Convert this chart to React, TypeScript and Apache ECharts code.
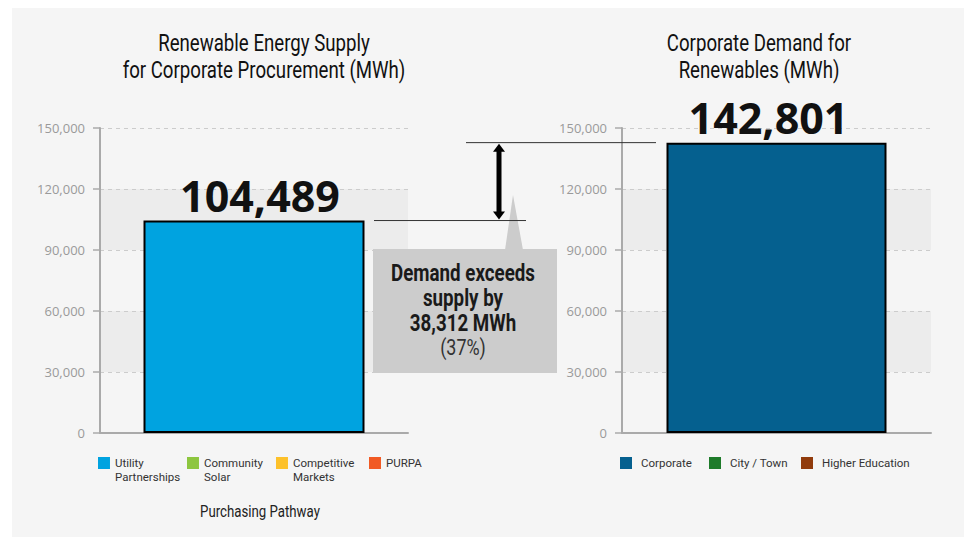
import React, { useEffect, useRef } from 'react';
import * as echarts from 'echarts';

const supplyCategories = ['Utility Partnerships', 'Community Solar', 'Competitive Markets', 'PURPA'];
const supplyValues = [104489, 0, 0, 0];
const supplyColors = ['#00a3e0', '#8dc63f', '#fdc12a', '#f15a24'];

const demandCategories = ['Corporate', 'City / Town', 'Higher Education'];
const demandValues = [142801, 0, 0];
const demandColors = ['#05608f', '#1e7b2a', '#913b0c'];

const yMin = 0;
const yMax = 150000;
const yInterval = 30000;

const supplyTitle = ['Renewable Energy Supply', 'for Corporate Procurement (MWh)'];
const demandTitle = ['Corporate Demand for', 'Renewables (MWh)'];
const pathwayLabel = 'Purchasing Pathway';

const FONT = "Roboto, 'Noto Sans', sans-serif";
const WIDE = "'Open Sans', 'Liberation Sans', sans-serif";

const fmt = (v: number) => Math.round(v).toLocaleString('en-US');

function measure(text: string, font: string): number {
  try {
    const ctx = document.createElement('canvas').getContext('2d');
    if (!ctx) return 0;
    ctx.font = font;
    return ctx.measureText(text).width;
  } catch (e) {
    return 0;
  }
}
function fitScale(text: string, font: string, target: number, fallback: number) {
  const w = measure(text, font);
  return w > 0 ? target / w : fallback;
}

function yAxis(gridIndex: number) {
  return {
    gridIndex,
    type: 'value',
    min: yMin,
    max: yMax,
    interval: yInterval,
    axisLine: { show: true, lineStyle: { color: '#aaaaaa', width: 2 } },
    axisTick: { show: true, length: 7, lineStyle: { color: '#aaaaaa', width: 1.5 } },
    axisLabel: { color: '#9a9a9a', fontSize: 13, margin: 15, fontFamily: WIDE, formatter: (v: number) => fmt(v) },
    splitLine: { show: true, lineStyle: { color: '#cccccc', width: 1, type: [4, 4] } },
    splitArea: { show: true, areaStyle: { color: ['rgba(0,0,0,0)', '#ececec'] } },
  };
}

function xAxis(gridIndex: number, name: string) {
  return {
    gridIndex,
    type: 'category',
    data: [name],
    axisLine: { show: true, lineStyle: { color: '#aaaaaa', width: 2 } },
    axisTick: { show: false },
    axisLabel: { show: false },
    splitLine: { show: false },
  };
}

const bigLabel = {
  position: 'top',
  distance: 4,
  fontSize: 43,
  fontWeight: 'bold',
  color: '#111111',
  fontFamily: WIDE,
  formatter: (p: any) => fmt(p.value),
};

const TWO_LINE_ICON = 'path://M0 0H12V12H0Z M0 26H0.05V26.05H0Z';

function legendItem(name: string, left: number, twoLine: boolean) {
  return {
    data: [name],
    left,
    top: 448,
    padding: 0,
    orient: 'horizontal',
    icon: twoLine ? TWO_LINE_ICON : 'rect',
    itemWidth: 12,
    itemHeight: twoLine ? 26 : 12,
    selectedMode: false,
    formatter: (n: string) => {
      if (!twoLine) return n;
      const i = n.indexOf(' ');
      return i < 0 ? n : n.slice(0, i) + '\n' + n.slice(i + 1);
    },
    itemStyle: { borderWidth: 0 },
    textStyle: { fontSize: 11.5, color: '#333333', lineHeight: 14, fontFamily: FONT },
  };
}

export default function App() {
  const ref = useRef<HTMLDivElement>(null);

  useEffect(() => {
    if (!ref.current) return;
    const chart = echarts.init(ref.current, null, { renderer: 'svg' });

    const supplySeries = supplyCategories.map((name, i) => ({
      type: 'bar',
      name,
      stack: 'supply',
      xAxisIndex: 0,
      yAxisIndex: 0,
      barWidth: 221,
      data: [supplyValues[i] > 0 ? supplyValues[i] : null],
      itemStyle: { color: supplyColors[i], borderColor: '#000000', borderWidth: 2 },
      label: { show: supplyValues[i] > 0, ...bigLabel, offset: [6, 0] },
    }));
    const demandSeries = demandCategories.map((name, i) => ({
      type: 'bar',
      name,
      stack: 'demand',
      xAxisIndex: 1,
      yAxisIndex: 1,
      barWidth: 220,
      data: [demandValues[i] > 0 ? demandValues[i] : null],
      itemStyle: { color: demandColors[i], borderColor: '#000000', borderWidth: 2 },
      label: { show: demandValues[i] > 0, ...bigLabel, offset: [-8, 0] },
    }));

    const supplyLegendLeft = [86, 175, 264, 357];
    const demandLegendLeft = [608, 697, 789];

    const option: any = {
      animation: false,
      backgroundColor: 'transparent',
      color: [...supplyColors, ...demandColors],
      grid: [
        { left: 88, top: 120, width: 308, height: 305 },
        { left: 610, top: 120, width: 309, height: 305 },
      ],
      xAxis: [xAxis(0, 'Supply'), xAxis(1, 'Demand')],
      yAxis: [yAxis(0), yAxis(1)],
      legend: [
        ...supplyCategories.map((n, i) => legendItem(n, supplyLegendLeft[i], n.includes(' '))),
        ...demandCategories.map((n, i) => {
          const l: any = legendItem(n, demandLegendLeft[i], false);
          l.textStyle = { ...l.textStyle, padding: [0, 0, 0, 4] };
          return l;
        }),
      ],
      series: [...supplySeries, ...demandSeries],
    };
    chart.setOption(option);

    const supplyTotal = supplyValues.reduce((a, b) => a + b, 0);
    const demandTotal = demandValues.reduce((a, b) => a + b, 0);
    const gap = demandTotal - supplyTotal;
    const gapPct = Math.round((gap / supplyTotal) * 100);
    const ySupply = (chart.convertToPixel({ gridIndex: 0 } as any, [0, supplyTotal]) as number[])[1];
    const yDemand = (chart.convertToPixel({ gridIndex: 1 } as any, [0, demandTotal]) as number[])[1];

    const titleFont = '23px Roboto';
    const titleScale = fitScale(supplyTitle[1], titleFont, 283, 0.8);
    const calloutFont = 'bold 23px Roboto';
    const calloutScale = fitScale('Demand exceeds', calloutFont, 144, 0.8);
    const pathFont = '17px Roboto';
    const pathScale = fitScale(pathwayLabel, pathFont, 120, 0.85);

    const ax = 487;
    const headH = 8;
    const headW = 6;

    chart.setOption({
      graphic: [
        {
          type: 'text',
          x: 252,
          y: 22,
          scaleX: titleScale,
          style: { text: supplyTitle.join('\n'), align: 'center', verticalAlign: 'top', fontSize: 23, lineHeight: 27, fontFamily: FONT, fill: '#111111' },
        },
        {
          type: 'text',
          x: 747,
          y: 22,
          scaleX: titleScale,
          style: { text: demandTitle.join('\n'), align: 'center', verticalAlign: 'top', fontSize: 23, lineHeight: 27, fontFamily: FONT, fill: '#111111' },
        },
        {
          type: 'text',
          x: 248,
          y: 503,
          scaleX: pathScale,
          style: { text: pathwayLabel, align: 'center', verticalAlign: 'middle', fontSize: 17, fontFamily: FONT, fill: '#222222' },
        },
        // callout box
        { type: 'rect', shape: { x: 361, y: 241, width: 184, height: 124 }, style: { fill: '#cccccc' }, z: 10 },
        { type: 'polygon', shape: { points: [[501, 187], [493, 242], [511, 242]] }, style: { fill: '#cccccc' }, z: 10 },
        {
          type: 'text',
          x: 451,
          y: 302,
          z: 11,
          scaleX: calloutScale,
          style: {
            text: `{b|Demand exceeds}\n{b|supply by}\n{b|${fmt(gap)} MWh}\n{r|(${gapPct}%)}`,
            align: 'center',
            verticalAlign: 'middle',
            rich: {
              b: { fontSize: 23, fontWeight: 'bold', fontFamily: FONT, lineHeight: 25, fill: '#1a1a1a', align: 'center' },
              r: { fontSize: 22, fontFamily: FONT, lineHeight: 24, fill: '#333333', align: 'center' },
            },
          },
        },
        // reference lines
        { type: 'line', shape: { x1: 454, y1: yDemand, x2: 644, y2: yDemand }, style: { stroke: '#333333', lineWidth: 1 }, z: 12 },
        { type: 'line', shape: { x1: 362, y1: ySupply, x2: 514, y2: ySupply }, style: { stroke: '#333333', lineWidth: 1 }, z: 12 },
        // arrow
        { type: 'line', shape: { x1: ax, y1: yDemand + headH - 1, x2: ax, y2: ySupply - headH + 1 }, style: { stroke: '#000000', lineWidth: 5 }, z: 12 },
        { type: 'polygon', shape: { points: [[ax, yDemand + 1], [ax - headW, yDemand + headH + 1], [ax + headW, yDemand + headH + 1]] }, style: { fill: '#000000' }, z: 12 },
        { type: 'polygon', shape: { points: [[ax, ySupply - 1], [ax - headW, ySupply - headH - 1], [ax + headW, ySupply - headH - 1]] }, style: { fill: '#000000' }, z: 12 },
      ],
    });

    return () => chart.dispose();
  }, []);

  return (
    <div style={{ position: 'fixed', left: 0, top: 0, width: 964, height: 537, background: '#ffffff' }}>
      <div ref={ref} style={{ position: 'absolute', left: 12, top: 8, width: 952, height: 529, background: '#f5f5f5' }} />
    </div>
  );
}
